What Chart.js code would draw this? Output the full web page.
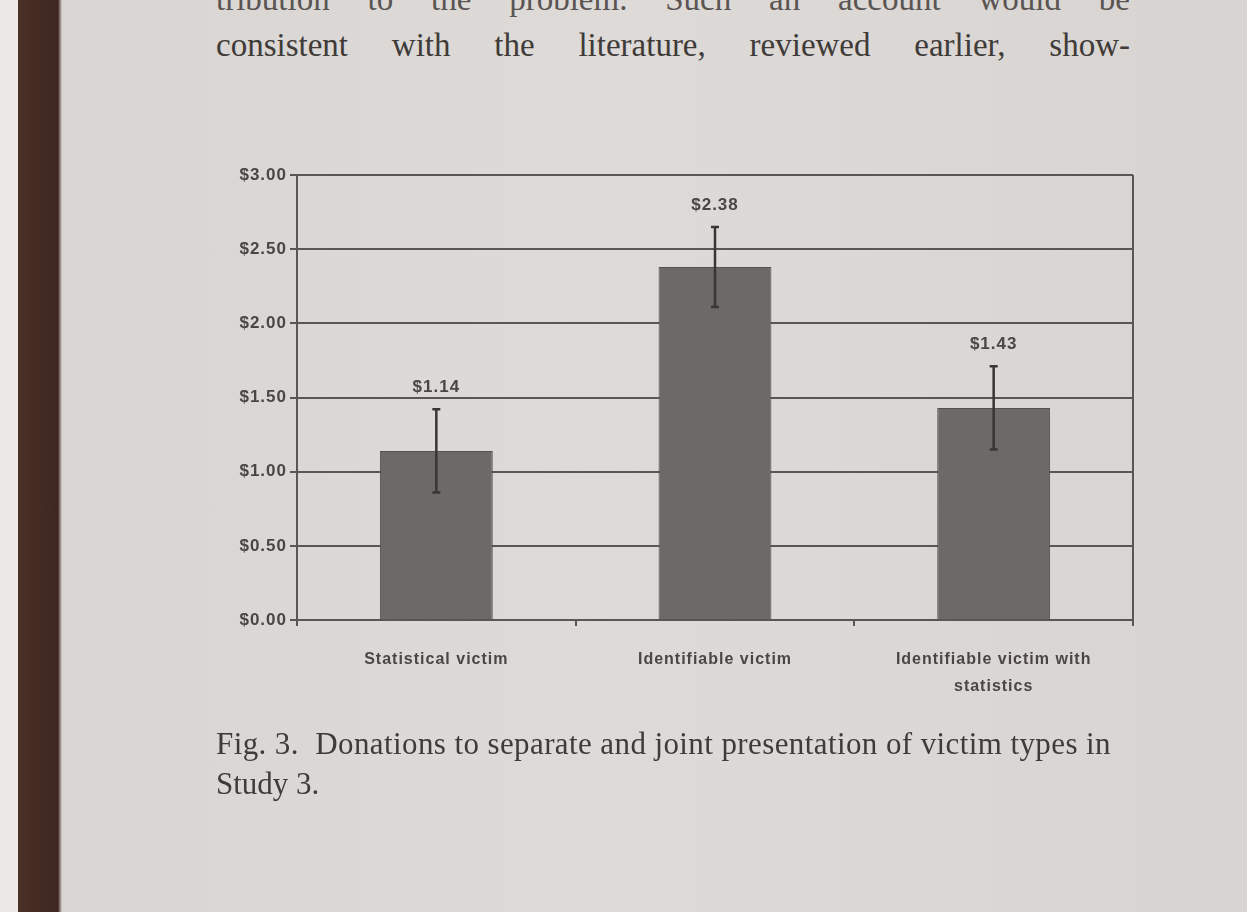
<!DOCTYPE html>
<html>
<head>
<meta charset="utf-8">
<script src="https://cdn.jsdelivr.net/npm/chart.js@4.4.1/dist/chart.umd.min.js"></script>
<style>
  html, body { margin: 0; padding: 0; }
  body {
    width: 1247px; height: 912px; overflow: hidden; position: relative;
    background: linear-gradient(90deg, #ebe8e6 0px, #ebe8e6 18px, #4a3026 18px, #3d271f 58px, #d9d5d2 62px, #dedad7 600px, #d8d4d1 1247px);
  }
  #chart { position: absolute; left: 0; top: 0; }
  .txt { position: absolute; font-family: "Liberation Serif", "DejaVu Serif", serif; color: #3a3634; white-space: nowrap; }
  .just { width: 914px; text-align: justify; text-align-last: justify; white-space: normal; }
  #top1 { left: 216px; top: -19px; font-size: 33px; color: #5a5552; }
  #top2 { left: 216px; top: 27px; font-size: 33px; color: #3f3b38; }
  #cap1 { left: 216px; top: 726px; font-size: 31px; letter-spacing: 0.4px; color: #3f3b38; }
  #cap2 { left: 216px; top: 766px; font-size: 31px; color: #3f3b38; }
</style>
</head>
<body>
<div class="txt just" id="top1">tribution to the problem. Such an account would be</div>
<div class="txt just" id="top2">consistent with the literature, reviewed earlier, show-</div>
<canvas id="chart" width="1247" height="912"></canvas>
<div class="txt" id="cap1">Fig. 3.&nbsp; Donations to separate and joint presentation of victim types in</div>
<div class="txt" id="cap2">Study 3.</div>
<script>
const categories = ['Statistical victim', 'Identifiable victim', ['Identifiable victim with', 'statistics']];
const donations = [1.14, 2.38, 1.43];
const errors = [0.28, 0.27, 0.28];
const yTicks = [0, 0.5, 1, 1.5, 2, 2.5, 3];

const inkColor = '#4a4644';
const fontFamily = '"Liberation Sans", Arial, sans-serif';

// the printed labels are wider than plain Arial
const spacing = {
    id: 'spacing',
    beforeInit(chart) { chart.ctx.letterSpacing = '1px'; },
    beforeDraw(chart) { chart.ctx.letterSpacing = '1px'; }
};

// error bars, value labels and the plot frame
const extras = {
    id: 'extras',
    afterDatasetsDraw(chart) {
        const ctx = chart.ctx;
        const x = chart.scales.x;
        const y = chart.scales.y;
        const area = chart.chartArea;
        ctx.save();
        ctx.strokeStyle = '#5a5654';
        ctx.lineWidth = 2;
        ctx.beginPath();
        ctx.moveTo(area.right, area.top);
        ctx.lineTo(area.right, area.bottom);
        ctx.stroke();

        ctx.strokeStyle = '#3a3634';
        ctx.lineWidth = 2.5;
        donations.forEach((v, i) => {
            const cx = x.getPixelForValue(i);
            const top = y.getPixelForValue(v + errors[i]);
            const bot = y.getPixelForValue(v - errors[i]);
            ctx.beginPath();
            ctx.moveTo(cx, top);
            ctx.lineTo(cx, bot);
            ctx.moveTo(cx - 4, top);
            ctx.lineTo(cx + 4, top);
            ctx.moveTo(cx - 4, bot);
            ctx.lineTo(cx + 4, bot);
            ctx.stroke();

            ctx.fillStyle = inkColor;
            ctx.font = 'bold 17px ' + fontFamily;
            ctx.textAlign = 'center';
            ctx.textBaseline = 'middle';
            ctx.fillText('$' + v.toFixed(2), cx, top - 22);
        });
        ctx.restore();
    }
};

new Chart(document.getElementById('chart'), {
    type: 'bar',
    data: {
        labels: categories,
        datasets: [{
            data: donations,
            backgroundColor: '#6d6967',
            borderColor: '#555150',
            borderWidth: 1,
            barPercentage: 0.405,
            categoryPercentage: 1
        }]
    },
    options: {
        responsive: false,
        animation: false,
        events: [],
        layout: { padding: { left: 200, right: 114, top: 175, bottom: 202 } },
        plugins: { legend: { display: false }, tooltip: { enabled: false } },
        scales: {
            x: {
                afterFit: s => { s.height = 90; },
                border: { color: '#5a5654', width: 2 },
                grid: { drawOnChartArea: false, drawTicks: true, tickLength: 6, color: '#5a5654', lineWidth: 2, offset: true },
                ticks: {
                    color: inkColor,
                    padding: 20,
                    font: { family: fontFamily, size: 16, weight: 'bold', lineHeight: 1.7 },
                    maxRotation: 0,
                    autoSkip: false
                }
            },
            y: {
                min: 0,
                max: 3,
                afterFit: s => { s.width = 97; },
                afterBuildTicks: s => { s.ticks = yTicks.map(v => ({ value: v })); },
                border: { color: '#5a5654', width: 2 },
                grid: { color: '#5a5654', lineWidth: 2, tickLength: 7 },
                ticks: {
                    color: inkColor,
                    padding: 3,
                    font: { family: fontFamily, size: 17, weight: 'bold' },
                    callback: v => '$' + Number(v).toFixed(2)
                }
            }
        }
    },
    plugins: [spacing, extras]
});
</script>
</body>
</html>
